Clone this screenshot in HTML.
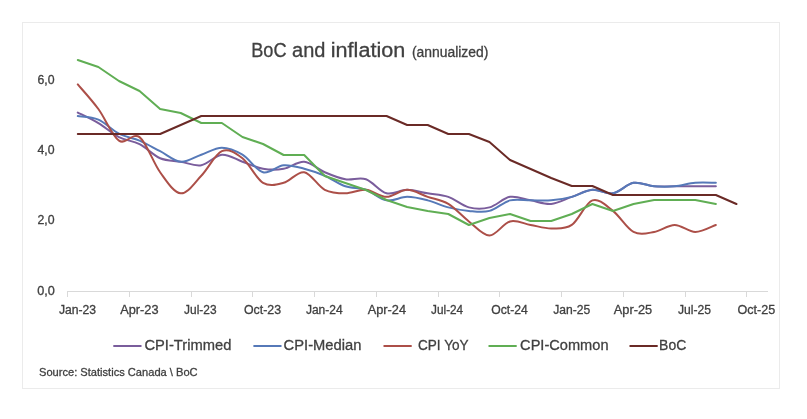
<!DOCTYPE html>
<html><head><meta charset="utf-8"><title>BoC and inflation</title>
<style>html,body{margin:0;padding:0;background:#fff;overflow:hidden;}svg{display:block;will-change:transform;}</style></head>
<body><svg width="807" height="419" viewBox="0 0 807 419">
<rect x="22.5" y="22.5" width="757" height="366" fill="#fff" stroke="#ebebeb" stroke-width="1"/>
<path d="M67,291.5 H768" stroke="#d9d9d9" stroke-width="1" fill="none"/>
<path d="M67.5,291.5 V297 M129.5,291.5 V297 M191.5,291.5 V297 M252.5,291.5 V297 M314.5,291.5 V297 M376.5,291.5 V297 M438.5,291.5 V297 M499.5,291.5 V297 M561.5,291.5 V297 M623.5,291.5 V297 M685.5,291.5 V297 M746.5,291.5 V297 " stroke="#d9d9d9" stroke-width="1" fill="none"/>
<g fill="none" stroke-width="2.0" stroke-linejoin="round" stroke-linecap="round">
<path d="M77.79,112.54 C81.22,114.29 91.51,118.98 98.37,123.08 C105.24,127.17 112.10,133.61 118.96,137.13 C125.82,140.64 132.68,140.64 139.54,144.15 C146.40,147.67 153.26,155.28 160.12,158.21 C166.98,161.13 173.85,160.55 180.71,161.72 C187.57,162.89 194.43,166.40 201.29,165.23 C208.15,164.06 215.01,155.28 221.87,154.69 C228.73,154.11 235.59,159.38 242.46,161.72 C249.32,164.06 256.18,167.57 263.04,168.74 C269.90,169.92 276.76,169.92 283.62,168.74 C290.48,167.57 297.34,161.13 304.20,161.72 C311.07,162.30 317.93,169.33 324.79,172.26 C331.65,175.19 338.51,178.11 345.37,179.28 C352.23,180.45 359.09,176.94 365.95,179.28 C372.81,181.63 379.68,191.58 386.54,193.34 C393.40,195.09 400.26,189.82 407.12,189.82 C413.98,189.82 420.84,192.16 427.70,193.34 C434.56,194.51 441.42,194.51 448.29,196.85 C455.15,199.19 462.01,205.63 468.87,207.39 C475.73,209.14 482.59,209.14 489.45,207.39 C496.31,205.63 503.17,198.02 510.03,196.85 C516.90,195.68 523.76,199.19 530.62,200.36 C537.48,201.53 544.34,204.46 551.20,203.88 C558.06,203.29 564.92,199.19 571.78,196.85 C578.64,194.51 585.51,190.41 592.37,189.82 C599.23,189.24 606.09,194.51 612.95,193.34 C619.81,192.16 626.67,183.97 633.53,182.80 C640.39,181.63 647.25,185.72 654.12,186.31 C660.98,186.90 667.84,186.31 674.70,186.31 C681.56,186.31 688.42,186.31 695.28,186.31 C702.14,186.31 712.43,186.31 715.86,186.31" stroke="#7a5d9c"/>
<path d="M77.79,116.05 C81.22,116.64 91.51,116.64 98.37,119.56 C105.24,122.49 112.10,130.10 118.96,133.61 C125.82,137.13 132.68,137.71 139.54,140.64 C146.40,143.57 153.26,147.67 160.12,151.18 C166.98,154.69 173.85,161.13 180.71,161.72 C187.57,162.30 194.43,157.03 201.29,154.69 C208.15,152.35 215.01,147.67 221.87,147.67 C228.73,147.67 235.59,150.59 242.46,154.69 C249.32,158.79 256.18,170.50 263.04,172.26 C269.90,174.01 276.76,165.82 283.62,165.23 C290.48,164.65 297.34,166.99 304.20,168.74 C311.07,170.50 317.93,172.84 324.79,175.77 C331.65,178.70 338.51,183.97 345.37,186.31 C352.23,188.65 359.09,187.48 365.95,189.82 C372.81,192.16 379.68,199.19 386.54,200.36 C393.40,201.53 400.26,196.85 407.12,196.85 C413.98,196.85 420.84,198.61 427.70,200.36 C434.56,202.12 441.42,205.63 448.29,207.39 C455.15,209.14 462.01,210.32 468.87,210.90 C475.73,211.49 482.59,212.66 489.45,210.90 C496.31,209.14 503.17,202.12 510.03,200.36 C516.90,198.61 523.76,200.36 530.62,200.36 C537.48,200.36 544.34,200.95 551.20,200.36 C558.06,199.78 564.92,198.61 571.78,196.85 C578.64,195.09 585.51,190.41 592.37,189.82 C599.23,189.24 606.09,194.51 612.95,193.34 C619.81,192.16 626.67,183.97 633.53,182.80 C640.39,181.63 647.25,185.72 654.12,186.31 C660.98,186.90 667.84,186.90 674.70,186.31 C681.56,185.72 688.42,183.38 695.28,182.80 C702.14,182.21 712.43,182.80 715.86,182.80" stroke="#5679b8"/>
<path d="M77.79,84.43 C81.22,88.53 91.51,99.66 98.37,109.02 C105.24,118.39 112.10,135.96 118.96,140.64 C125.82,145.32 132.68,131.86 139.54,137.13 C146.40,142.40 153.26,162.89 160.12,172.26 C166.98,181.63 173.85,192.75 180.71,193.34 C187.57,193.92 194.43,182.80 201.29,175.77 C208.15,168.74 215.01,154.11 221.87,151.18 C228.73,148.25 235.59,152.94 242.46,158.21 C249.32,163.48 256.18,178.70 263.04,182.80 C269.90,186.90 276.76,184.55 283.62,182.80 C290.48,181.04 297.34,171.09 304.20,172.26 C311.07,173.43 317.93,186.31 324.79,189.82 C331.65,193.34 338.51,193.34 345.37,193.34 C352.23,193.34 359.09,189.24 365.95,189.82 C372.81,190.41 379.68,196.85 386.54,196.85 C393.40,196.85 400.26,189.82 407.12,189.82 C413.98,189.82 420.84,194.51 427.70,196.85 C434.56,199.19 441.42,199.78 448.29,203.88 C455.15,207.97 462.01,216.17 468.87,221.44 C475.73,226.71 482.59,235.49 489.45,235.49 C496.31,235.49 503.17,223.20 510.03,221.44 C516.90,219.68 523.76,223.78 530.62,224.95 C537.48,226.12 544.34,228.47 551.20,228.47 C558.06,228.47 564.92,229.64 571.78,224.95 C578.64,220.27 585.51,202.70 592.37,200.36 C599.23,198.02 606.09,205.63 612.95,210.90 C619.81,216.17 626.67,228.47 633.53,231.98 C640.39,235.49 647.25,233.15 654.12,231.98 C660.98,230.81 667.84,224.95 674.70,224.95 C681.56,224.95 688.42,231.98 695.28,231.98 C702.14,231.98 712.43,226.12 715.86,224.95" stroke="#ac4f48"/>
<path d="M77.79,60.00 L98.37,67.00 L118.96,81.00 L139.54,91.00 L160.12,109.00 L180.71,113.00 L201.29,123.00 L221.87,123.00 L242.46,137.00 L263.04,144.00 L283.62,155.00 L304.20,155.00 L324.79,176.00 L345.37,183.00 L365.95,190.00 L386.54,200.00 L407.12,207.00 L427.70,211.00 L448.29,214.00 L468.87,225.00 L489.45,218.00 L510.03,214.00 L530.62,221.00 L551.20,221.00 L571.78,214.00 L592.37,204.00 L612.95,211.00 L633.53,204.00 L654.12,200.00 L674.70,200.00 L695.28,200.00 L715.86,204.00" stroke="#60ae54"/>
<path d="M77.79,134.00 L98.37,134.00 L118.96,134.00 L139.54,134.00 L160.12,134.00 L180.71,125.00 L201.29,116.00 L221.87,116.00 L242.46,116.00 L263.04,116.00 L283.62,116.00 L304.20,116.00 L324.79,116.00 L345.37,116.00 L365.95,116.00 L386.54,116.00 L407.12,125.00 L427.70,125.00 L448.29,134.00 L468.87,134.00 L489.45,142.00 L510.03,160.00 L530.62,169.00 L551.20,178.00 L571.78,186.00 L592.37,186.00 L612.95,195.00 L633.53,195.00 L654.12,195.00 L674.70,195.00 L695.28,195.00 L715.86,195.00 L736.45,204.00" stroke="#6a2a26"/>
</g>
<g fill="none" stroke-width="2.0">
<path d="M113.3,346 H141.5" stroke="#7a5d9c"/>
<path d="M253.4,346 H281.5" stroke="#5679b8"/>
<path d="M383.5,346 H411.7" stroke="#ac4f48"/>
<path d="M488.5,346 H516.7" stroke="#60ae54"/>
<path d="M629.5,346 H657.7" stroke="#6a2a26"/>
</g>
<g font-family="Liberation Sans, sans-serif" fill="#404040" stroke="#404040" stroke-width="0.3">
<text x="251.20" y="56.60" font-size="20" textLength="35.33" lengthAdjust="spacingAndGlyphs" xml:space="preserve">BoC</text>
<text x="292.10" y="56.60" font-size="20" textLength="33.38" lengthAdjust="spacingAndGlyphs" xml:space="preserve">and</text>
<text x="330.80" y="56.60" font-size="20" textLength="74.49" lengthAdjust="spacingAndGlyphs" xml:space="preserve">inflation</text>
<text x="411.90" y="56.60" font-size="14" textLength="76.46" lengthAdjust="spacingAndGlyphs" xml:space="preserve">(annualized)</text>
<text x="37.50" y="83.50" font-size="12.5" textLength="17.11" lengthAdjust="spacingAndGlyphs" xml:space="preserve">6,0</text>
<text x="37.50" y="153.85" font-size="12.5" textLength="17.11" lengthAdjust="spacingAndGlyphs" xml:space="preserve">4,0</text>
<text x="37.50" y="224.20" font-size="12.5" textLength="17.11" lengthAdjust="spacingAndGlyphs" xml:space="preserve">2,0</text>
<text x="37.30" y="294.60" font-size="12.5" textLength="17.60" lengthAdjust="spacingAndGlyphs" xml:space="preserve">0,0</text>
<text x="58.90" y="313.60" font-size="12.5" textLength="37.23" lengthAdjust="spacingAndGlyphs" xml:space="preserve">Jan-23</text>
<text x="120.20" y="313.60" font-size="12.5" textLength="38.35" lengthAdjust="spacingAndGlyphs" xml:space="preserve">Apr-23</text>
<text x="184.10" y="313.60" font-size="12.5" textLength="32.45" lengthAdjust="spacingAndGlyphs" xml:space="preserve">Jul-23</text>
<text x="243.90" y="313.60" font-size="12.5" textLength="37.12" lengthAdjust="spacingAndGlyphs" xml:space="preserve">Oct-23</text>
<text x="305.90" y="313.60" font-size="12.5" textLength="36.83" lengthAdjust="spacingAndGlyphs" xml:space="preserve">Jan-24</text>
<text x="367.70" y="313.60" font-size="12.5" textLength="38.34" lengthAdjust="spacingAndGlyphs" xml:space="preserve">Apr-24</text>
<text x="431.10" y="313.60" font-size="12.5" textLength="32.05" lengthAdjust="spacingAndGlyphs" xml:space="preserve">Jul-24</text>
<text x="491.30" y="313.60" font-size="12.5" textLength="36.53" lengthAdjust="spacingAndGlyphs" xml:space="preserve">Oct-24</text>
<text x="553.30" y="313.60" font-size="12.5" textLength="37.03" lengthAdjust="spacingAndGlyphs" xml:space="preserve">Jan-25</text>
<text x="613.80" y="313.60" font-size="12.5" textLength="38.35" lengthAdjust="spacingAndGlyphs" xml:space="preserve">Apr-25</text>
<text x="677.90" y="313.60" font-size="12.5" textLength="33.05" lengthAdjust="spacingAndGlyphs" xml:space="preserve">Jul-25</text>
<text x="737.50" y="313.60" font-size="12.5" textLength="37.72" lengthAdjust="spacingAndGlyphs" xml:space="preserve">Oct-25</text>
<text x="144.40" y="349.50" font-size="15.3" textLength="86.96" lengthAdjust="spacingAndGlyphs" xml:space="preserve">CPI-Trimmed</text>
<text x="283.60" y="349.50" font-size="15.3" textLength="77.74" lengthAdjust="spacingAndGlyphs" xml:space="preserve">CPI-Median</text>
<text x="418.00" y="349.50" font-size="15.3" textLength="50.59" lengthAdjust="spacingAndGlyphs" xml:space="preserve">CPI YoY</text>
<text x="520.10" y="349.50" font-size="15.3" textLength="88.43" lengthAdjust="spacingAndGlyphs" xml:space="preserve">CPI-Common</text>
<text x="659.10" y="349.50" font-size="15.3" textLength="27.22" lengthAdjust="spacingAndGlyphs" xml:space="preserve">BoC</text>
<text x="39.00" y="376.00" font-size="11.6" textLength="158.60" lengthAdjust="spacingAndGlyphs" xml:space="preserve">Source: Statistics Canada \ BoC</text>
</g>
</svg></body></html>
